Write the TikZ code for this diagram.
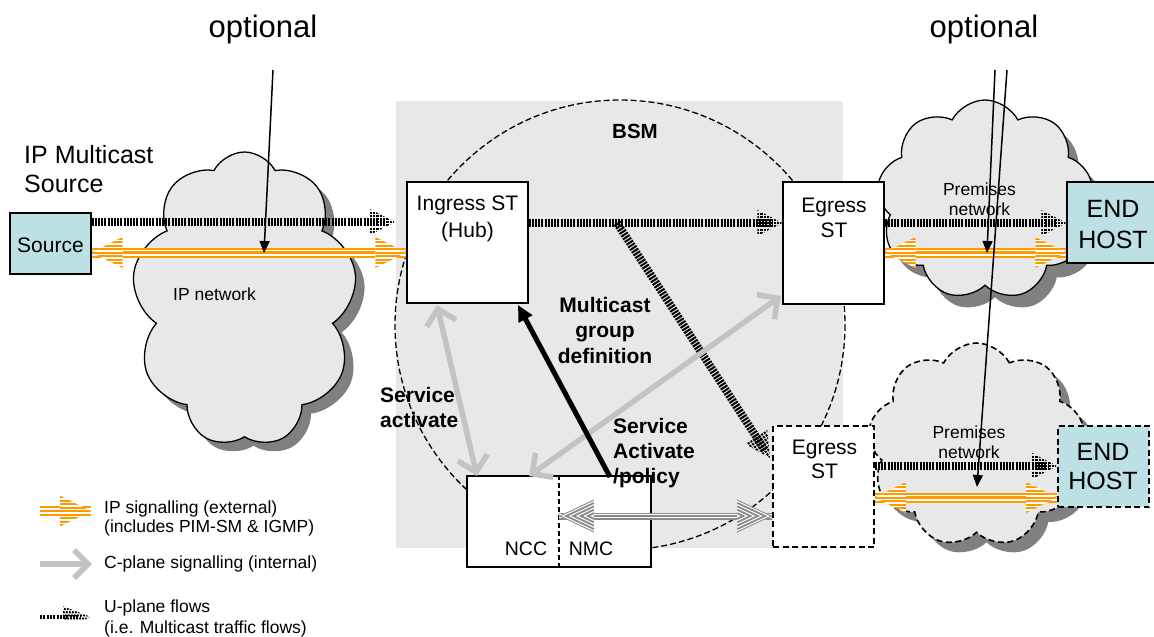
\documentclass[tikz,border=0pt]{standalone}
\usepackage{fontspec}
\setmainfont{Liberation Sans}
\usetikzlibrary{shapes.symbols,arrows.meta,decorations.markings}
\definecolor{hostcyan}{HTML}{BCE0E4}
\definecolor{bsmgray}{HTML}{E8E8E8}
\definecolor{shadowgray}{HTML}{808080}
\definecolor{cgray}{HTML}{C3C3C3}
\definecolor{iporange}{HTML}{FF9900}
\definecolor{hatchgray}{HTML}{8A8A8A}
\newcommand{\fsz}[1]{\fontsize{#1}{#1}\selectfont}
\newcommand{\iptri}[1]{%
  \fill[white] (0,0)--(#1*31,15.5)--(#1*31,-15.5)--cycle;
  \begin{scope}
    \clip (0,0)--(#1*31,15.5)--(#1*31,-15.5)--cycle;
    \foreach \k in {-4,...,4} \draw[iporange, line width=2pt] (0,\k*3.5)--(#1*33,\k*3.5);
  \end{scope}}
\newcommand{\uptri}[2]{%
  \begin{scope}
    \clip (0,0)--(-#1,#2)--(-#1,-#2)--cycle;
    \foreach \k in {0,...,8} \draw[line width=2.2pt] (-\k*3.3-1,-20)--(-\k*3.3-1,20);
  \end{scope}}
\newcommand{\uptrileg}{%
  \begin{scope}
    \clip (0,0)--(-28,11)--(-28,-11)--cycle;
    \foreach \k in {0,...,12} \draw[line width=1.8pt] (-\k*3+5,-12)--(-\k*3-2,12);
  \end{scope}}
\newcommand{\chevtri}[1]{%
  \fill[white] (0,0)--(#1*35,16.5)--(#1*35,-16.5)--cycle;
  \begin{scope}
    \clip (0,0)--(#1*35,16.5)--(#1*35,0)--cycle;
    \foreach \k in {0,...,6} \draw[hatchgray, line width=1.8pt] (0,-\k*3.4)--(#1*35,16.5-\k*3.4);
  \end{scope}
  \begin{scope}
    \clip (0,0)--(#1*35,-16.5)--(#1*35,0)--cycle;
    \foreach \k in {0,...,6} \draw[hatchgray, line width=1.8pt] (0,\k*3.4)--(#1*35,-16.5+\k*3.4);
  \end{scope}}
\tikzset{
  box/.style={draw, line width=1.3pt, fill=white, inner sep=0pt},
  dbox/.style={box, dash pattern=on 6pt off 3.5pt, line width=1.6pt},
  host/.style={box, fill=hostcyan},
  dhost/.style={dbox, fill=hostcyan},
  lbl/.style={anchor=base, inner sep=0pt},
  lbll/.style={anchor=base west, inner sep=0pt},
  cloudbase/.style={cloud, cloud puffs=9, cloud puff arc=125, cloud ignores aspect, inner sep=0pt},
  cloudsh/.style={cloudbase, fill=bsmgray, draw, line width=1.3pt},
  shadowsh/.style={cloudbase, fill=shadowgray},
  uflow/.style={line width=8pt, dash pattern=on 2pt off 1.2pt, shorten >=9pt,
    postaction={decorate, decoration={markings, mark=at position 1 with {\uptri{25}{13}}}}},
  uflowleg/.style={line width=4.5pt, dash pattern=on 2pt off 1.3pt, shorten >=10pt,
    postaction={decorate, decoration={markings, mark=at position 1 with {\uptrileg}}}},
  ipsig/.style={draw=iporange, line width=10pt,
    postaction={draw=white, line width=6pt},
    postaction={draw=iporange, line width=2.4pt},
    postaction={decorate, decoration={markings,
       mark=at position 0 with {\iptri{1}},
       mark=at position 1 with {\iptri{-1}}}}},
  ipsigleg/.style={draw=iporange, line width=10pt,
    postaction={draw=white, line width=6pt},
    postaction={draw=iporange, line width=2.4pt},
    postaction={decorate, decoration={markings,
       mark=at position 1 with {\iptri{-1}}}}},
  cplane/.style={draw=cgray, line width=5.5pt, {Straight Barb[length=15pt,width=30pt]}-{Straight Barb[length=15pt,width=30pt]}},
  cplaneleg/.style={draw=cgray, line width=5.5pt, -{Straight Barb[length=14pt,width=28pt]}},
  ctrl/.style={line width=5pt, -{Triangle[length=16pt,width=15pt]}},
  nmlink/.style={draw=hatchgray, line width=7pt,
    postaction={draw=white,line width=4.4pt},
    postaction={draw=hatchgray,line width=1.8pt},
    postaction={decorate, decoration={markings,
       mark=at position 0 with {\chevtri{1}},
       mark=at position 1 with {\chevtri{-1}}}}},
  optl/.style={line width=1.5pt, -{Triangle[length=12pt,width=10pt]}},
}
\begin{document}
\begin{tikzpicture}[x=1pt,y=-1pt]
\useasboundingbox (0,0) rectangle (1154,637);
\fill[white] (0,0) rectangle (1154,637);

% clouds
\node[shadowsh, minimum width=225pt, minimum height=295pt] (ipcs) at (253.5,308.5) {};
\node[cloudsh, minimum width=225pt, minimum height=295pt] (ipc) at (244.5,299.5) {};
\node[shadowsh, minimum width=216pt, minimum height=200pt] (pc1s) at (995,212) {};
\node[cloudsh, minimum width=216pt, minimum height=200pt] (pc1) at (985,200) {};
\node[shadowsh, minimum width=217pt, minimum height=204pt] (pc2s) at (986.5,455) {};
\node[cloudsh, dash pattern=on 6pt off 3.5pt, line width=1.6pt, minimum width=217pt, minimum height=204pt] (pc2) at (976.5,445) {};

% BSM area
\fill[bsmgray] (396,101) rectangle (843,548);
\draw[line width=1.3pt, dash pattern=on 6pt off 3pt] (620,325) circle[radius=225];

% boxes
\node[box, fill=hostcyan, minimum width=81pt, minimum height=61pt] (src) at (50.5,243.5) {};
\node[box, minimum width=121pt, minimum height=121pt] (ing) at (467.5,242.5) {};
\node[box, minimum width=101pt, minimum height=122pt] (egt) at (833.5,243) {};
\node[dbox, minimum width=101pt, minimum height=121pt] (egb) at (823.5,486.5) {};
\node[box, minimum width=184pt, minimum height=91pt] (ncc) at (559,521.5) {};
\draw[line width=1.4pt, dash pattern=on 5pt off 3pt] (ncc.north) -- (ncc.south);
\node[host, minimum width=93pt, minimum height=81pt] (eht) at (1113.5,222.5) {};
\node[dhost, minimum width=91pt, minimum height=81pt] (ehb) at (1103.5,466.5) {};

% texts
\node[lbl, font=\fsz{31}] (opt1) at (263,37) {optional};
\node[lbl, font=\fsz{31}] (opt2) at (984,37) {optional};
\node[lbll, font=\fsz{25}] (ipm1) at (24,163) {IP Multicast};
\node[lbll, font=\fsz{25}] (ipm2) at (24,192) {Source};
\node[lbl, font=\fsz{21}] (srct) at (50.5,252) {Source};
\node[lbl, font=\fsz{17.5}] (ipnt) at (214.5,300) {IP network};
\node[lbl, font=\fsz{21}] (ingt1) at (467.5,210) {Ingress ST};
\node[lbl, font=\fsz{21}] (ingt2) at (467.5,237) {(Hub)};
\node[lbl, font=\bfseries\fsz{20.5}] (bsmt) at (635,138) {BSM};
\node[lbl, font=\fsz{21}] (egt1) at (834,212) {Egress};
\node[lbl, font=\fsz{21}] (egt2) at (834,237) {ST};
\node[lbl, font=\fsz{17.5}] (pn1a) at (979.5,195) {Premises};
\node[lbl, font=\fsz{17.5}] (pn1b) at (979.5,215) {network};
\node[lbl, font=\fsz{25}] (eh1a) at (1113,217) {END};
\node[lbl, font=\fsz{25}] (eh1b) at (1113,248) {HOST};
\node[lbl, font=\bfseries\fsz{21}] (mg1) at (605,312) {Multicast};
\node[lbl, font=\bfseries\fsz{21}] (mg2) at (605,337) {group};
\node[lbl, font=\bfseries\fsz{21}] (mg3) at (605,363) {definition};
\node[lbll, font=\bfseries\fsz{21}] (sa1) at (380,402) {Service};
\node[lbll, font=\bfseries\fsz{21}] (sa2) at (380,427) {activate};
\node[lbll, font=\bfseries\fsz{21}] (sp1) at (613,433) {Service};
\node[lbll, font=\bfseries\fsz{21}] (sp2) at (613,458) {Activate};
\node[lbll, font=\bfseries\fsz{21}] (sp3) at (613,483) {/policy};
\node[lbl, font=\fsz{21}] (egb1) at (824.5,454) {Egress};
\node[lbl, font=\fsz{21}] (egb2) at (824.5,478) {ST};
\node[lbl, font=\fsz{17.5}] (pn2a) at (969,438) {Premises};
\node[lbl, font=\fsz{17.5}] (pn2b) at (969,458) {network};
\node[lbl, font=\fsz{25}] (eh2a) at (1103,460) {END};
\node[lbl, font=\fsz{25}] (eh2b) at (1103,489) {HOST};
\node[lbl, font=\fsz{19.5}] (ncct) at (526,555) {NCC};
\node[lbl, font=\fsz{19.5}] (nmct) at (591,555) {NMC};
\node[lbll, font=\fsz{17.5}] (lg1a) at (104,513) {IP signalling (external)};
\node[lbll, font=\fsz{17.5}] (lg1b) at (104,532) {(includes PIM-SM \& IGMP)};
\node[lbll, font=\fsz{17.5}] (lg2) at (104,568) {C-plane signalling (internal)};
\node[lbll, font=\fsz{17.5}] (lg3a) at (104,612) {U-plane flows};
\node[lbll, font=\fsz{17.5}] (lg3b) at (104,633) {(i.e. Multicast traffic flows)};

% connector end points
\coordinate (uA) at (src.east |- 0,222);
\coordinate (uB) at (395,222);
\coordinate (uC) at (ing.east |- 0,223);
\coordinate (uD) at (egt.west |- 0,223);
\coordinate (uE) at (617,223);
\coordinate (uF) at (770,458);
\coordinate (uG) at (egt.east |- 0,223);
\coordinate (uH) at (eht.west |- 0,223);
\coordinate (uI) at (egb.east |- 0,466);
\coordinate (uJ) at (ehb.west |- 0,466);
\coordinate (oA) at (src.east |- 0,252.5);
\coordinate (oB) at (ing.west |- 0,252.5);
\coordinate (oC) at (egt.east |- 0,252.5);
\coordinate (oD) at (eht.west |- 0,252.5);
\coordinate (oE) at (egb.east |- 0,497.5);
\coordinate (oF) at (ehb.west |- 0,497.5);
\coordinate (cA) at (437,305);
\coordinate (cB) at (477,476);
\coordinate (cC) at (781,296);
\coordinate (cD) at (529,476);
\coordinate (kA) at (610,477);
\coordinate (kB) at (518,305);
\coordinate (nA) at (ncc.center |- 0,516);
\coordinate (nB) at (egb.west |- 0,516);
\coordinate (p1) at (273,70);
\coordinate (p1e) at (264,253);
\coordinate (p2) at (995,70);
\coordinate (p2e) at (987,253);
\coordinate (p3) at (1007,70);
\coordinate (p3e) at (977,487);

% U-plane flows
\draw[uflow] (uA) -- (uB);
\draw[uflow] (uC) -- (uD);
\draw[uflow] (uE) -- (uF);
\draw[uflow] (uG) -- (uH);
\draw[uflow] (uI) -- (uJ);

% IP signalling
\path[ipsig] (oA) -- (oB);
\path[ipsig] (oC) -- (oD);
\path[ipsig] (oE) -- (oF);

% C-plane
\draw[cplane] (cA) -- (cB);
\draw[cplane] (cC) -- (cD);
\draw[ctrl] (kA) -- (kB);
\path[nmlink] (nA) -- (nB);

% optional pointers
\draw[optl] (p1) -- (p1e);
\draw[optl] (p2) -- (p2e);
\draw[optl] (p3) -- (p3e);

% legend
\coordinate (lgA) at (40,511);
\coordinate (lgB) at (91,511);
\coordinate (lgC) at (40,564);
\coordinate (lgD) at (92,564);
\coordinate (lgE) at (40,617);
\coordinate (lgF) at (91,617);
\path[ipsigleg] (lgA) -- (lgB);
\draw[cplaneleg] (lgC) -- (lgD);
\draw[uflowleg] (lgE) -- (lgF);
\end{tikzpicture}
\end{document}
